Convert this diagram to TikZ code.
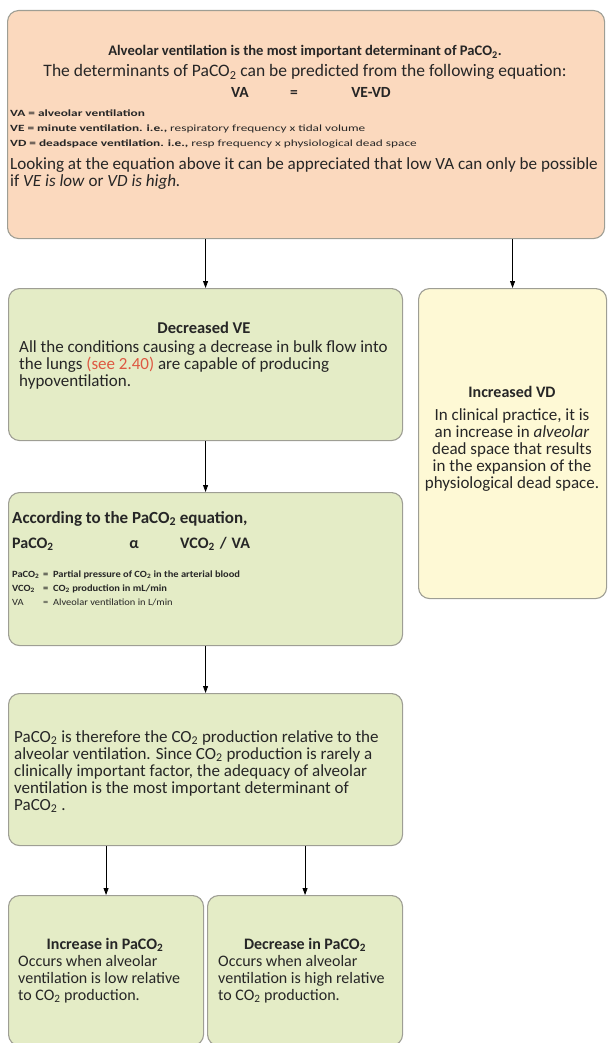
\documentclass[tikz,border=0pt]{standalone}
\usepackage{fontspec}
\setmainfont{Carlito}
\usetikzlibrary{arrows.meta}

\definecolor{peach}{RGB}{251,217,190}
\definecolor{sage}{RGB}{228,236,198}
\definecolor{cream}{RGB}{254,249,213}
\definecolor{rim}{RGB}{158,158,148}
\definecolor{seered}{RGB}{222,88,66}
\definecolor{ink}{RGB}{38,38,38}

\newcommand\ctwo{CO\textsubscript{2}}
\newcommand\pco{PaCO\textsubscript{2}}
% horizontally widened small print
\newcommand\wide[2]{\scalebox{#1}[1]{#2}}

\begin{document}
\begin{tikzpicture}[x=1pt,y=-1pt,
  box/.style={draw=rim, line width=1.1pt, rounded corners=11pt,
    inner sep=0pt, anchor=north west},
  link/.style={-{Triangle[length=7pt,width=5pt]}, line width=0.8pt, black},
  txt/.style={inner sep=0pt, text=ink, align=left},
  body/.style={txt, font=\fontsize{17}{17}\selectfont},
  head/.style={txt, font=\fontsize{16}{17}\selectfont\bfseries},
  tiny/.style={txt, font=\fontsize{9.5}{10}\selectfont}]
\useasboundingbox (0,0) rectangle (608,1043);

% boxes
\node[box, fill=peach, minimum width=597pt, minimum height=228pt] (top) at (7,10) {};
\node[box, fill=sage,  minimum width=394pt, minimum height=152pt] (dve) at (8,288) {};
\node[box, fill=cream, minimum width=188pt, minimum height=310pt] (ivd) at (418,288) {};
\node[box, fill=sage,  minimum width=394pt, minimum height=153pt] (eqn) at (8,492) {};
\node[box, fill=sage,  minimum width=394pt, minimum height=152pt] (ther) at (8,693) {};
\node[box, fill=sage,  minimum width=195pt, minimum height=150pt] (inc) at (8,895) {};
\node[box, fill=sage,  minimum width=195pt, minimum height=150pt] (dec) at (207,895) {};

% connectors
\draw[link] (dve.north |- top.south) -- (dve.north);
\draw[link] (ivd.north |- top.south) -- (ivd.north);
\draw[link] (dve.south) -- (eqn.north);
\draw[link] (eqn.south) -- (ther.north);
\draw[link] (inc.north |- ther.south) -- (inc.north);
\draw[link] (dec.north |- ther.south) -- (dec.north);

% top box (multi-line nodes sit on the baseline of their last line)
\node[txt, anchor=base, font=\fontsize{14.6}{17}\selectfont\bfseries] (t1) at (305,56)
  {Alveolar ventilation is the most important determinant of \pco.};
\node[txt, anchor=base, font=\fontsize{17.5}{17}\selectfont] (t2) at (305,77)
  {The determinants of \pco\ can be predicted from the following equation:};
\node[txt, anchor=base, font=\fontsize{15.5}{17}\selectfont\bfseries] (t3a) at (240,98) {VA};
\node[txt, anchor=base, font=\fontsize{15.5}{17}\selectfont\bfseries] (t3b) at (294,98) {=};
\node[txt, anchor=base, font=\fontsize{15.5}{17}\selectfont\bfseries] (t3c) at (371,98) {VE-VD};
\node[tiny, anchor=base west] (t4) at (10,117) {\wide{1.4}{\textbf{VA = alveolar ventilation}}};
\node[tiny, anchor=base west] (t5) at (10,132)
  {\wide{1.4}{\textbf{VE = minute ventilation. i.e.,} respiratory frequency x tidal volume}};
\node[tiny, anchor=base west] (t6) at (10,147)
  {\wide{1.4}{\textbf{VD = deadspace ventilation. i.e.,} resp frequency x physiological dead space}};
\node[txt, anchor=base west, font=\fontsize{17.1}{17}\selectfont] (t7) at (10,186)
  {Looking at the equation above it can be appreciated that low VA can only be possible\\
   if \textit{VE is low} or \textit{VD is high.}};

% decreased VE
\node[head, anchor=base, font=\fontsize{16.5}{17}\selectfont\bfseries] (d1) at (204,333) {Decreased VE};
\node[body, anchor=base west] (d2) at (19,386)
  {All the conditions causing a decrease in bulk flow into\\
   the lungs \textcolor{seered}{(see 2.40)} are capable of producing\\
   hypoventilation.};

% increased VD
\node[head, anchor=base] (v1) at (512,397) {Increased VD};
\node[body, anchor=base, align=center] (v2) at (512,488)
  {In clinical practice, it is\\
   an increase in \textit{alveolar}\\
   dead space that results\\
   in the expansion of the\\
   physiological dead space.};

% PaCO2 equation
\node[txt, anchor=base west, font=\fontsize{17}{17}\selectfont\bfseries] (e1) at (12,523)
  {According to the \pco\ equation,};
\node[txt, anchor=base west, font=\fontsize{16}{17}\selectfont\bfseries] (e2) at (12,548) {\pco};
\node[txt, anchor=base, font=\fontsize{16}{17}\selectfont\bfseries] (e3) at (134,548) {α};
\node[txt, anchor=base west, font=\fontsize{16}{17}\selectfont\bfseries] (e4) at (180,548)
  {VCO\textsubscript{2}\hspace{5pt}/\hspace{5pt}VA};
\node[tiny, anchor=base west] (e5) at (12,577) {\wide{1.1}{\textbf{\pco}}};
\node[tiny, anchor=base west] (e6) at (43,577)
  {\wide{1.1}{\textbf{= \ Partial pressure of \ctwo\ in the arterial blood}}};
\node[tiny, anchor=base west] (e7) at (12,591) {\wide{1.1}{\textbf{VCO\textsubscript{2}}}};
\node[tiny, anchor=base west] (e8) at (43,591)
  {\wide{1.1}{\textbf{= \ \ctwo\ production in mL/min}}};
\node[tiny, anchor=base west] (e9) at (12,605) {\wide{1.1}{VA}};
\node[tiny, anchor=base west] (e10) at (43,605) {\wide{1.1}{= \ Alveolar ventilation in L/min}};

% therefore
\node[body, anchor=base west] (r1) at (14,810)
  {\pco\ is therefore the \ctwo\ production relative to the\\
   alveolar ventilation. Since \ctwo\ production is rarely a\\
   clinically important factor, the adequacy of alveolar\\
   ventilation is the most important determinant of\\
   \pco\ .};

% increase / decrease
\node[head, anchor=base] (i1) at (105,949) {Increase in \pco};
\node[body, anchor=base west, font=\fontsize{16}{17}\selectfont] (i2) at (18,1000)
  {Occurs when alveolar\\ ventilation is low relative\\ to \ctwo\ production.};
\node[head, anchor=base] (c1) at (305,949) {Decrease in \pco};
\node[body, anchor=base west, font=\fontsize{16}{17}\selectfont] (c2) at (218,1000)
  {Occurs when alveolar\\ ventilation is high relative\\ to \ctwo\ production.};
\end{tikzpicture}
\end{document}
